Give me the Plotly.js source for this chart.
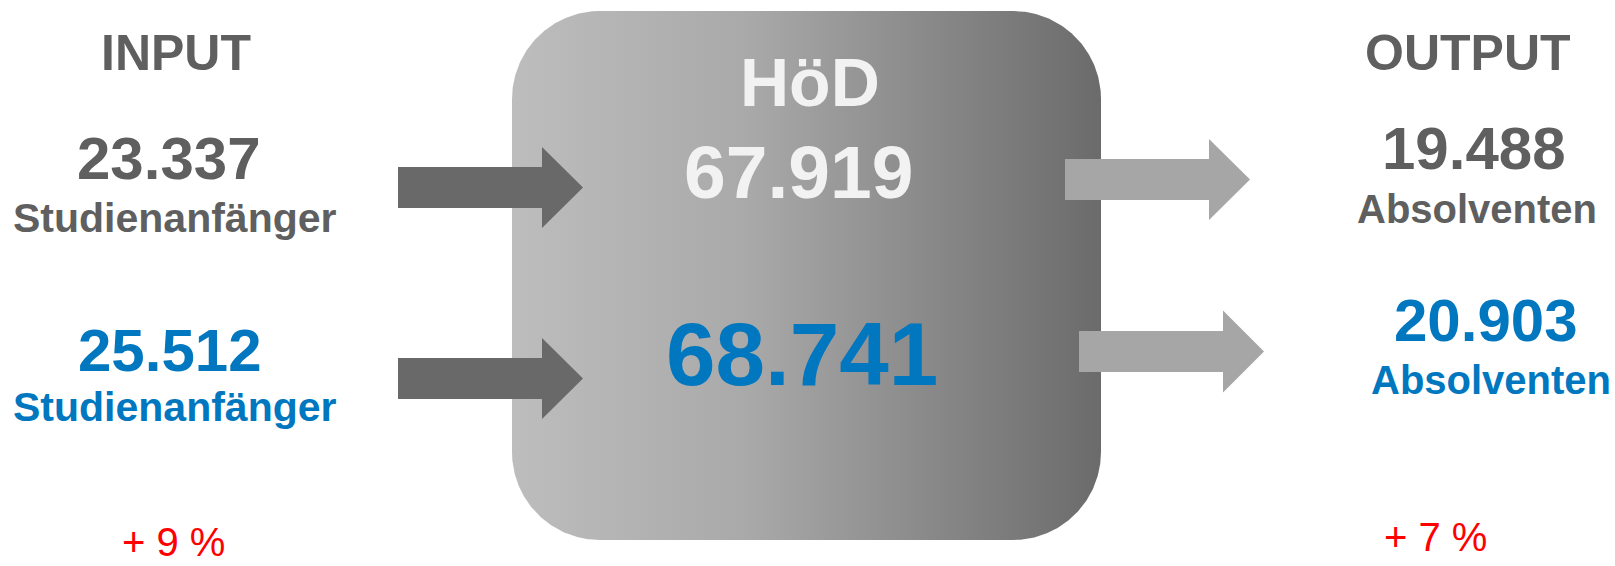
<!DOCTYPE html>
<html>
<head>
<meta charset="utf-8">
<script src="https://cdn.plot.ly/plotly-3.0.1.min.js"></script>
<style>
    body { margin: 0; background: #ffffff; }
    #graphContainer { width: 1615px; height: 566px; }
</style>
</head>
<body>
<div id="graphContainer"></div>
<script>
// values of the picture
const inputValues = [23337, 25512];          // Studienanfänger (earlier, later)
const hoedValues = [67919, 68741];           // HöD total
const outputValues = [19488, 20903];         // Absolventen
const changeLabels = ["+ 9 %", "+ 7 %"];     // input / output change
const headers = ["INPUT", "HöD", "OUTPUT"];
const inputLabel = "Studienanfänger";
const outputLabel = "Absolventen";

const W = 1615, H = 566;
const GREY = "#5f5f5f";
const BLUE = "#0077be";
const LIGHT = "#f2f2f2";
const FONT = "Liberation Sans, Arial, Helvetica, sans-serif";

// german thousands separator
function fmt(v) {
    return v.toLocaleString("de-DE");
}

function roundedRect(x0, y0, x1, y1, r) {
    let xs = [], ys = [];
    let corners = [
        [x1 - r, y0 + r, -90, 0],
        [x1 - r, y1 - r, 0, 90],
        [x0 + r, y1 - r, 90, 180],
        [x0 + r, y0 + r, 180, 270]
    ];
    corners.forEach(function (c) {
        for (let a = c[2]; a <= c[3]; a += 1) {
            let rad = a * Math.PI / 180;
            xs.push(c[0] + r * Math.cos(rad));
            ys.push(c[1] + r * Math.sin(rad));
        }
    });
    xs.push(xs[0]);
    ys.push(ys[0]);
    return {x: xs, y: ys};
}

function arrowPath(x0, yc, headBase, tip, shaftHalf, headHalf) {
    return "M " + x0 + " " + (yc - shaftHalf) +
        " L " + headBase + " " + (yc - shaftHalf) +
        " L " + headBase + " " + (yc - headHalf) +
        " L " + tip + " " + yc +
        " L " + headBase + " " + (yc + headHalf) +
        " L " + headBase + " " + (yc + shaftHalf) +
        " L " + x0 + " " + (yc + shaftHalf) + " Z";
}

function arrowShape(path, color) {
    return {type: "path", path: path, xref: "x", yref: "y", fillcolor: color, line: {width: 0}, layer: "above"};
}

function label(x, y, text, size, color, bold) {
    return {
        x: x, y: y, xref: "x", yref: "y", text: text, showarrow: false,
        xanchor: "center", yanchor: "middle",
        font: {family: FONT, size: size, color: color, weight: bold ? "bold" : "normal"}
    };
}

let box = roundedRect(512, 11, 1101, 540, 88);

let graphData = [{
    x: box.x,
    y: box.y,
    mode: "lines",
    line: {width: 0, color: "rgba(0,0,0,0)"},
    fill: "toself",
    fillgradient: {
        type: "horizontal",
        colorscale: [[0, "#bdbdbd"], [0.4, "#a9a9a9"], [1, "#6b6b6b"]]
    },
    hoverinfo: "skip"
}];

let shapes = [
    arrowShape(arrowPath(398, 187.5, 542, 583, 20.5, 40.5), "#696969"),
    arrowShape(arrowPath(398, 378.5, 542, 583, 20.5, 40.5), "#696969"),
    arrowShape(arrowPath(1065, 179.5, 1209, 1250, 20.5, 40.5), "#a6a6a6"),
    arrowShape(arrowPath(1079, 351.5, 1223, 1264, 20.5, 41), "#a6a6a6")
];

let annotations = [
    label(176, 52.5, headers[0], 50, GREY, true),
    label(169, 158.5, fmt(inputValues[0]), 60, GREY, true),
    label(175, 218, inputLabel, 41, GREY, true),
    label(170, 350, fmt(inputValues[1]), 60, BLUE, true),
    label(175, 407, inputLabel, 41, BLUE, true),
    label(173, 542, changeLabels[0], 40, "#ff0000", false),

    label(810, 81.5, headers[1], 68, LIGHT, true),
    label(798, 171.5, fmt(hoedValues[0]), 75, LIGHT, true),
    label(802, 354, fmt(hoedValues[1]), 89, BLUE, true),

    label(1468, 52.5, headers[2], 50, GREY, true),
    label(1474, 148.5, fmt(outputValues[0]), 60, GREY, true),
    label(1477, 208.5, outputLabel, 40, GREY, true),
    label(1486, 320, fmt(outputValues[1]), 60, BLUE, true),
    label(1491, 380, outputLabel, 40, BLUE, true),
    label(1435, 537, changeLabels[1], 40, "#ff0000", false)
];

let graphLayout = {
    width: W,
    height: H,
    margin: {l: 0, r: 0, t: 0, b: 0, pad: 0},
    paper_bgcolor: "#ffffff",
    plot_bgcolor: "#ffffff",
    showlegend: false,
    xaxis: {range: [0, W], visible: false, fixedrange: true},
    yaxis: {range: [H, 0], visible: false, fixedrange: true},
    shapes: shapes,
    annotations: annotations
};

Plotly.newPlot("graphContainer", graphData, graphLayout, {displayModeBar: false, staticPlot: true});
</script>
</body>
</html>
